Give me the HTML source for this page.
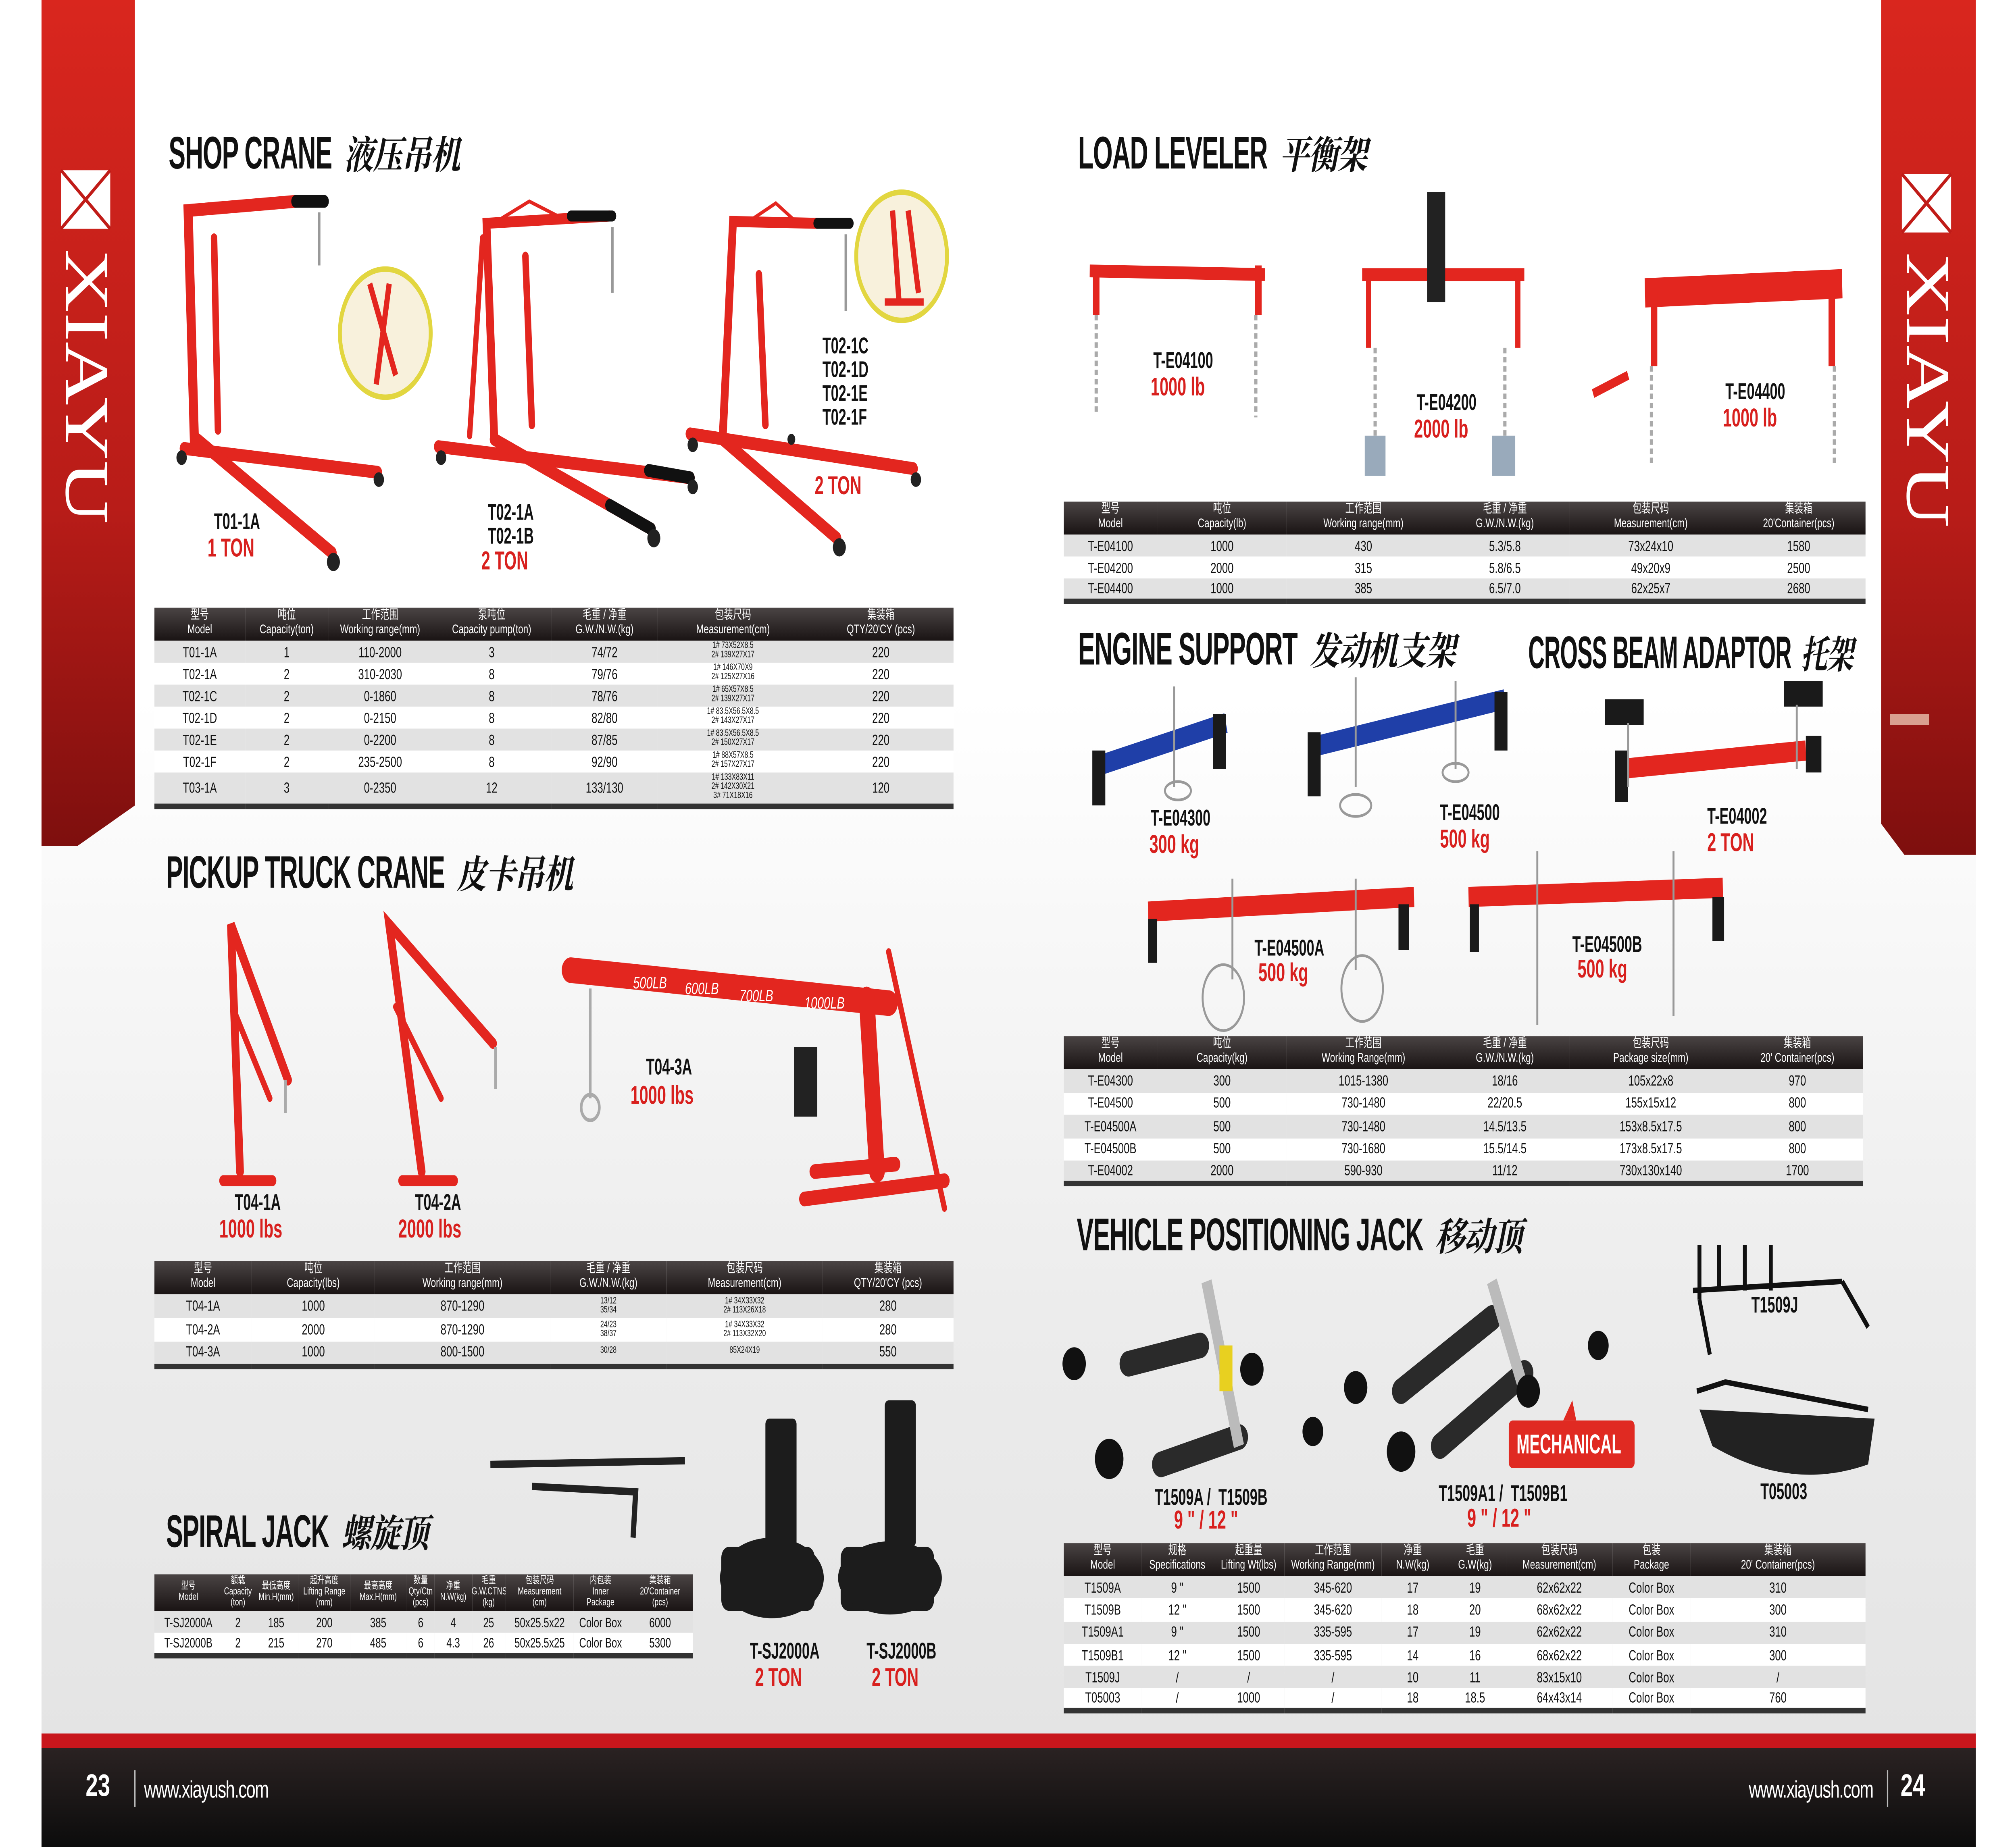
<!DOCTYPE html>
<html><head><meta charset="utf-8"><style>
html,body{margin:0;padding:0;background:#fff;width:100%;height:100%;overflow:hidden;}
#root{position:absolute;left:0;top:0;width:100vw;height:100vh;display:block;}
#w{position:relative;width:1554px;height:1009px;overflow:hidden;background:#fff;font-family:"Liberation Sans","Noto Sans CJK SC",sans-serif;}
.a{position:absolute;}
.h{position:absolute;font-weight:bold;font-size:25px;color:#111;white-space:nowrap;transform-origin:0 0;transform:scaleX(0.78);letter-spacing:-0.5px;}
.h span{font-family:"Noto Serif CJK SC","Noto Sans CJK SC",serif;font-style:italic;font-size:21px;margin-left:12px;display:inline-block;transform:scaleX(1.4);transform-origin:0 50%;}
.m{position:absolute;font-weight:bold;font-size:12.5px;color:#111;white-space:nowrap;transform:scaleX(0.85);transform-origin:0 0;line-height:13px;}
.r{position:absolute;font-weight:bold;font-size:14px;color:#d8201e;white-space:nowrap;transform:scaleX(0.88);transform-origin:0 0;}
.logo{position:absolute;color:#fff;font-family:'Liberation Serif',serif;font-size:48px;line-height:40px;width:40px;height:170px;writing-mode:vertical-rl;text-orientation:sideways;white-space:nowrap;overflow:hidden;}
table{position:absolute;border-collapse:collapse;font-size:8px;color:#111;text-align:center;table-layout:fixed;border-bottom:3px solid #333;}
th{background:linear-gradient(#4a4444,#1a1414);color:#fff;font-weight:normal;font-size:7px;line-height:8px;padding:1px 0;white-space:nowrap;overflow:hidden;}
td{padding:0;white-space:nowrap;overflow:hidden;}
tr:nth-child(even) td{background:#e2e2e2;}
tr:nth-child(odd) td{background:#fff;}
td.s{font-size:5px;line-height:5px;}
</style></head><body>
<svg id="root" viewBox="0 0 1554 1009" preserveAspectRatio="none" xmlns="http://www.w3.org/2000/svg"><foreignObject x="0" y="0" width="1554" height="1009"><div xmlns="http://www.w3.org/1999/xhtml" id="w">
<div class="a" style="left:32px;top:0;width:1491px;height:955px;background:linear-gradient(#ffffff 0%,#ffffff 40%,#ececec 75%,#e4e4e4 100%);"></div>
<svg class="a" style="left:0;top:0" width="1554" height="1009" xmlns="http://www.w3.org/2000/svg">
<defs><linearGradient id="rg" x1="0" y1="0" x2="0" y2="1"><stop offset="0" stop-color="#d9261e"/><stop offset="0.6" stop-color="#b81c18"/><stop offset="1" stop-color="#7e0f0e"/></linearGradient>
<linearGradient id="fg" x1="0" y1="0" x2="0" y2="1"><stop offset="0" stop-color="#2a2222"/><stop offset="1" stop-color="#0c0c0c"/></linearGradient></defs>
<polygon points="32,0 104,0 104,440 60,462 32,462" fill="url(#rg)"/>
<polygon points="1450,0 1523,0 1523,467 1468,467 1450,450" fill="url(#rg)"/>
<rect x="1457" y="390" width="30" height="6" fill="#d9a090"/>
<rect x="32" y="947" width="1491" height="8" fill="#c8161c"/>
<rect x="32" y="955" width="1491" height="54" fill="url(#fg)"/>
<line x1="104" y1="967" x2="104" y2="987" stroke="#bbb" stroke-width="1"/>
<line x1="1455" y1="967" x2="1455" y2="987" stroke="#bbb" stroke-width="1"/>
<g fill="#fff"><rect x="47" y="93" width="38" height="32"/><rect x="1466" y="95" width="38" height="32"/></g>
<g stroke="#c01c18" stroke-width="2"><line x1="47" y1="93" x2="85" y2="125"/><line x1="85" y1="93" x2="47" y2="125"/><line x1="1466" y1="95" x2="1504" y2="127"/><line x1="1504" y1="95" x2="1466" y2="127"/></g>

<g stroke="#e3261f" stroke-linecap="round" fill="none">
<path d="M150,245 L145,115 L228,110" stroke-width="7"/><path d="M228,110 L250,110" stroke="#111" stroke-width="7"/>
<path d="M165,130 L168,235" stroke-width="5"/>
<path d="M142,245 L291,258" stroke-width="7"/><path d="M152,240 L256,302" stroke-width="7"/>
<path d="M381,240 L375,122 L470,118" stroke-width="6"/><path d="M440,118 L472,118" stroke="#111" stroke-width="6"/>
<path d="M372,130 L362,238" stroke-width="4"/><path d="M405,140 L410,232" stroke-width="5"/>
<path d="M338,244 L532,261" stroke-width="7"/><path d="M381,240 L502,289" stroke-width="7"/>
<path d="M470,276 L502,289" stroke="#111" stroke-width="7"/><path d="M500,257 L532,261" stroke="#111" stroke-width="7"/>
<path d="M557,240 L565,121 L630,122" stroke-width="6"/><path d="M630,122 L655,122" stroke="#111" stroke-width="6"/>
<path d="M585,150 L590,232" stroke-width="5"/><path d="M557,240 L645,294" stroke-width="7"/><path d="M532,237 L704,256" stroke-width="7"/>
<path d="M385,120 L408,110 L430,118" stroke-width="2"/><path d="M575,122 L598,111 L615,122" stroke-width="2"/>
</g>
<g fill="#222"><circle cx="140" cy="250" r="4"/><circle cx="292" cy="262" r="4"/><circle cx="257" cy="307" r="5"/><circle cx="340" cy="250" r="4"/><circle cx="504" cy="294" r="5"/><circle cx="534" cy="266" r="4"/><circle cx="534" cy="243" r="4"/><circle cx="647" cy="299" r="5"/><circle cx="706" cy="262" r="4"/><circle cx="610" cy="240" r="3"/></g>
<g stroke="#999" stroke-width="2" fill="none"><path d="M246,116 L246,145"/><path d="M472,124 L472,160"/><path d="M652,128 L652,170"/></g>
<circle cx="297" cy="182" r="35" fill="#f8f1dc" stroke="#e2d640" stroke-width="3"/>
<path d="M285,155 L305,205 M300,155 L290,210" stroke="#e3261f" stroke-width="4"/>
<circle cx="695" cy="140" r="35" fill="#f8f1dc" stroke="#e2d640" stroke-width="3"/>
<path d="M688,115 L693,165 M700,115 L708,160 M682,165 L712,165" stroke="#e3261f" stroke-width="4"/>

<g stroke="#e3261f" fill="none" stroke-linecap="round">
<path d="M185,640 L178,505 L222,590" stroke-width="6"/><path d="M182,555 L208,600" stroke-width="4"/><path d="M172,645 L210,645" stroke-width="6"/>
<path d="M325,640 L300,505 L380,570" stroke-width="6"/><path d="M305,550 L340,600" stroke-width="4"/><path d="M310,645 L350,645" stroke-width="6"/>
<path d="M440,530 L685,548" stroke-width="14"/><path d="M668,545 L676,640" stroke-width="12"/><path d="M685,520 L728,660" stroke-width="4"/>
<path d="M620,655 L728,645" stroke-width="8"/><path d="M628,640 L690,636" stroke-width="8"/>
</g>
<rect x="612" y="572" width="18" height="38" fill="#222"/>
<g stroke="#aaa" stroke-width="2" fill="none"><path d="M220,590 L220,608"/><path d="M382,572 L382,595"/><path d="M455,540 L455,600"/><circle cx="455" cy="605" r="7"/></g>
<g fill="#fff" font-size="9" font-style="italic" font-family="Liberation Sans"><text x="488" y="540">500LB</text><text x="528" y="543">600LB</text><text x="570" y="547">700LB</text><text x="620" y="551">1000LB</text></g>

<g stroke="#222" fill="none"><path d="M378,800 L528,798" stroke-width="4"/><path d="M410,812 L490,815 L488,840" stroke-width="4"/></g>
<g fill="#1c1c1c"><rect x="590" y="775" width="24" height="70" rx="3"/><ellipse cx="595" cy="862" rx="40" ry="22"/><rect x="556" y="845" width="72" height="35" rx="6"/>
<rect x="682" y="765" width="24" height="80" rx="3"/><rect x="648" y="845" width="72" height="35" rx="6"/><ellipse cx="686" cy="862" rx="40" ry="20"/></g>

<g stroke="#e3261f" fill="none">
<path d="M840,148 L975,150" stroke-width="7"/><path d="M845,145 L845,172 M970,145 L970,172" stroke-width="5"/>
<path d="M1050,150 L1175,150" stroke-width="7"/><path d="M1055,150 L1055,190 M1170,150 L1170,190" stroke-width="4"/>
<path d="M1268,160 L1420,155" stroke-width="16"/><path d="M1275,160 L1275,200 M1412,160 L1412,200" stroke-width="5"/>
</g>
<rect x="1100" y="105" width="14" height="60" fill="#222"/>
<path d="M1228,215 L1255,205" stroke="#e3261f" stroke-width="5"/>
<g stroke="#aaa" stroke-width="2.5" stroke-dasharray="3 2" fill="none"><path d="M845,172 L845,225 M968,172 L968,228 M1060,190 L1060,250 M1160,190 L1160,252 M1273,200 L1273,255 M1414,200 L1414,255"/></g>
<g fill="#9ab"><rect x="1052" y="238" width="16" height="22"/><rect x="1150" y="238" width="18" height="22"/></g>

<g stroke="#1f3fa8" stroke-width="11"><path d="M848,418 L945,395"/><path d="M1012,408 L1160,382"/></g>
<g stroke="#e3261f" stroke-width="11"><path d="M1250,420 L1392,410"/><path d="M885,498 L1090,490"/><path d="M1132,490 L1328,485"/></g>
<g fill="#1a1a1a"><rect x="842" y="410" width="10" height="30"/><rect x="935" y="390" width="10" height="30"/><rect x="1008" y="400" width="10" height="35"/><rect x="1152" y="378" width="10" height="32"/>
<rect x="1245" y="410" width="10" height="28"/><rect x="1392" y="402" width="12" height="20"/><rect x="1237" y="382" width="30" height="14"/><rect x="1375" y="372" width="30" height="14"/>
<rect x="885" y="502" width="7" height="24"/><rect x="1078" y="494" width="8" height="25"/><rect x="1133" y="494" width="7" height="26"/><rect x="1320" y="490" width="9" height="24"/></g>
<g stroke="#999" stroke-width="1.5" fill="none"><path d="M905,375 L905,430 M1045,370 L1045,430 M1122,372 L1122,420 M1255,395 L1255,430 M1385,385 L1385,420 M950,480 L950,535 M1045,480 L1045,530 M1185,465 L1185,560 M1290,465 L1290,555"/>
<ellipse cx="908" cy="432" rx="10" ry="5"/><ellipse cx="1045" cy="440" rx="12" ry="6"/><ellipse cx="1122" cy="422" rx="10" ry="5"/><ellipse cx="943" cy="545" rx="16" ry="18"/><ellipse cx="1050" cy="540" rx="16" ry="18"/></g>

<g stroke="#2a2a2a" stroke-width="14" stroke-linecap="round"><path d="M870,745 L925,735"/><path d="M895,800 L955,785"/><path d="M1080,760 L1150,720"/><path d="M1110,790 L1175,750"/></g>
<g stroke="#bbb" stroke-width="8" fill="none"><path d="M930,700 L955,790"/><path d="M1150,700 L1175,760"/></g>
<rect x="940" y="735" width="10" height="25" fill="#e8d020"/>
<g fill="#111"><circle cx="828" cy="745" r="9"/><circle cx="855" cy="797" r="11"/><circle cx="965" cy="748" r="9"/><circle cx="1012" cy="782" r="8"/><circle cx="1045" cy="758" r="9"/><circle cx="1080" cy="793" r="11"/><circle cx="1178" cy="760" r="9"/><circle cx="1232" cy="735" r="8"/></g>
<g stroke="#111" stroke-width="3" fill="none"><path d="M1305,705 L1420,700 M1310,680 L1310,710 M1325,680 L1325,705 M1345,680 L1345,705 M1365,680 L1365,705 M1420,700 L1440,725 M1310,710 L1318,740"/></g>
<path d="M1310,770 L1445,775 L1440,800 Q1380,815 1320,790 Z" fill="#222"/>
<path d="M1308,760 L1330,755 L1440,770" stroke="#111" stroke-width="3" fill="none"/>
<rect x="1163" y="776" width="97" height="26" rx="3" fill="#e02a22"/>
<path d="M1205,776 L1212,765 L1215,776" fill="#e02a22"/>
</svg>

<div class="logo" style="left:46px;top:136px;">XIAYU</div>
<div class="logo" style="left:1465px;top:138px;">XIAYU</div>

<div class="a" style="left:66px;top:966px;color:#fff;font-size:17px;font-weight:bold;">23</div>
<div class="a" style="left:111px;top:970px;color:#fff;font-size:13px;letter-spacing:-0.5px;">www.xiayush.com</div>
<div class="a" style="left:1348px;top:970px;color:#fff;font-size:13px;letter-spacing:-0.5px;">www.xiayush.com</div>
<div class="a" style="left:1465px;top:966px;color:#fff;font-size:17px;font-weight:bold;">24</div>
<div class="a" style="left:1169px;top:781px;color:#fff;font-weight:bold;font-size:15px;transform:scaleX(0.8);transform-origin:0 0;">MECHANICAL</div>

<div class="h" style="left:130px;top:69px;">SHOP CRANE<span>液压吊机</span></div>
<div class="h" style="left:128px;top:462px;">PICKUP TRUCK CRANE<span>皮卡吊机</span></div>
<div class="h" style="left:128px;top:822px;">SPIRAL JACK<span>螺旋顶</span></div>
<div class="h" style="left:831px;top:69px;">LOAD LEVELER<span>平衡架</span></div>
<div class="h" style="left:831px;top:340px;">ENGINE SUPPORT<span>发动机支架</span></div>
<div class="h" style="left:1178px;top:342px;transform:scaleX(0.7);">CROSS BEAM ADAPTOR<span style="margin-left:10px;">托架</span></div>
<div class="h" style="left:830px;top:660px;">VEHICLE POSITIONING JACK<span>移动顶</span></div>

<div class="m" style="left:165px;top:279px;">T01-1A</div><div class="r" style="left:160px;top:291px;">1 TON</div>
<div class="m" style="left:376px;top:274px;">T02-1A<br/>T02-1B</div><div class="r" style="left:371px;top:298px;">2 TON</div>
<div class="m" style="left:634px;top:183px;">T02-1C<br/>T02-1D<br/>T02-1E<br/>T02-1F</div><div class="r" style="left:628px;top:257px;">2 TON</div>
<div class="m" style="left:181px;top:651px;">T04-1A</div><div class="r" style="left:169px;top:663px;">1000 lbs</div>
<div class="m" style="left:320px;top:651px;">T04-2A</div><div class="r" style="left:307px;top:663px;">2000 lbs</div>
<div class="m" style="left:498px;top:577px;">T04-3A</div><div class="r" style="left:486px;top:590px;">1000 lbs</div>
<div class="m" style="left:578px;top:896px;">T-SJ2000A</div><div class="r" style="left:582px;top:908px;">2 TON</div>
<div class="m" style="left:668px;top:896px;">T-SJ2000B</div><div class="r" style="left:672px;top:908px;">2 TON</div>
<div class="m" style="left:889px;top:191px;">T-E04100</div><div class="r" style="left:887px;top:203px;">1000 lb</div>
<div class="m" style="left:1092px;top:214px;">T-E04200</div><div class="r" style="left:1090px;top:226px;">2000 lb</div>
<div class="m" style="left:1330px;top:208px;">T-E04400</div><div class="r" style="left:1328px;top:220px;">1000 lb</div>
<div class="m" style="left:887px;top:441px;">T-E04300</div><div class="r" style="left:886px;top:453px;">300 kg</div>
<div class="m" style="left:1110px;top:438px;">T-E04500</div><div class="r" style="left:1110px;top:450px;">500 kg</div>
<div class="m" style="left:1316px;top:440px;">T-E04002</div><div class="r" style="left:1316px;top:452px;">2 TON</div>
<div class="m" style="left:967px;top:512px;">T-E04500A</div><div class="r" style="left:970px;top:523px;">500 kg</div>
<div class="m" style="left:1212px;top:510px;">T-E04500B</div><div class="r" style="left:1216px;top:521px;">500 kg</div>
<div class="m" style="left:1350px;top:707px;">T1509J</div>
<div class="m" style="left:1357px;top:809px;">T05003</div>
<div class="m" style="left:890px;top:812px;">T1509A /&#160;&#160;T1509B</div><div class="r" style="left:905px;top:822px;">9 " / 12 "</div>
<div class="m" style="left:1109px;top:810px;">T1509A1 /&#160;&#160;T1509B1</div><div class="r" style="left:1131px;top:821px;">9 " / 12 "</div>

<table style="left:119px;top:332px;width:616px;">
<colgroup><col style="width:70px"/><col style="width:64px"/><col style="width:80px"/><col style="width:92px"/><col style="width:82px"/><col style="width:116px"/><col style="width:112px"/></colgroup>
<tr><th>型号<br/>Model</th><th>吨位<br/>Capacity(ton)</th><th>工作范围<br/>Working range(mm)</th><th>泵吨位<br/>Capacity pump(ton)</th><th>毛重 / 净重<br/>G.W./N.W.(kg)</th><th>包装尺码<br/>Measurement(cm)</th><th>集装箱<br/>QTY/20'CY (pcs)</th></tr>
<tr style="height:12px"><td>T01-1A</td><td>1</td><td>110-2000</td><td>3</td><td>74/72</td><td class="s">1# 73X52X8.5<br/>2# 139X27X17</td><td>220</td></tr>
<tr style="height:12px"><td>T02-1A</td><td>2</td><td>310-2030</td><td>8</td><td>79/76</td><td class="s">1# 146X70X9<br/>2# 125X27X16</td><td>220</td></tr>
<tr style="height:12px"><td>T02-1C</td><td>2</td><td>0-1860</td><td>8</td><td>78/76</td><td class="s">1# 65X57X8.5<br/>2# 139X27X17</td><td>220</td></tr>
<tr style="height:12px"><td>T02-1D</td><td>2</td><td>0-2150</td><td>8</td><td>82/80</td><td class="s">1# 83.5X56.5X8.5<br/>2# 143X27X17</td><td>220</td></tr>
<tr style="height:12px"><td>T02-1E</td><td>2</td><td>0-2200</td><td>8</td><td>87/85</td><td class="s">1# 83.5X56.5X8.5<br/>2# 150X27X17</td><td>220</td></tr>
<tr style="height:12px"><td>T02-1F</td><td>2</td><td>235-2500</td><td>8</td><td>92/90</td><td class="s">1# 88X57X8.5<br/>2# 157X27X17</td><td>220</td></tr>
<tr style="height:18px"><td>T03-1A</td><td>3</td><td>0-2350</td><td>12</td><td>133/130</td><td class="s">1# 133X83X11<br/>2# 142X30X21<br/>3# 71X18X16</td><td>120</td></tr>
</table>

<table style="left:119px;top:689px;width:616px;">
<colgroup><col style="width:75px"/><col style="width:95px"/><col style="width:135px"/><col style="width:90px"/><col style="width:120px"/><col style="width:101px"/></colgroup>
<tr><th>型号<br/>Model</th><th>吨位<br/>Capacity(lbs)</th><th>工作范围<br/>Working range(mm)</th><th>毛重 / 净重<br/>G.W./N.W.(kg)</th><th>包装尺码<br/>Measurement(cm)</th><th>集装箱<br/>QTY/20'CY (pcs)</th></tr>
<tr style="height:13px"><td>T04-1A</td><td>1000</td><td>870-1290</td><td class="s">13/12<br/>35/34</td><td class="s">1# 34X33X32<br/>2# 113X26X18</td><td>280</td></tr>
<tr style="height:13px"><td>T04-2A</td><td>2000</td><td>870-1290</td><td class="s">24/23<br/>38/37</td><td class="s">1# 34X33X32<br/>2# 113X32X20</td><td>280</td></tr>
<tr style="height:13px"><td>T04-3A</td><td>1000</td><td>800-1500</td><td class="s">30/28</td><td class="s">85X24X19</td><td>550</td></tr>
</table>

<table style="left:119px;top:860px;width:415px;font-size:7.5px;">
<colgroup><col style="width:48px"/><col style="width:22px"/><col style="width:32px"/><col style="width:36px"/><col style="width:40px"/><col style="width:20px"/><col style="width:26px"/><col style="width:24px"/><col style="width:48px"/><col style="width:38px"/><col style="width:46px"/></colgroup>
<tr><th style="font-size:5.5px;line-height:6px">型号<br/>Model</th><th style="font-size:5.5px;line-height:6px">额载<br/>Capacity<br/>(ton)</th><th style="font-size:5.5px;line-height:6px">最低高度<br/>Min.H(mm)</th><th style="font-size:5.5px;line-height:6px">起升高度<br/>Lifting Range<br/>(mm)</th><th style="font-size:5.5px;line-height:6px">最高高度<br/>Max.H(mm)</th><th style="font-size:5.5px;line-height:6px">数量<br/>Qty/Ctn<br/>(pcs)</th><th style="font-size:5.5px;line-height:6px">净重<br/>N.W(kg)</th><th style="font-size:5.5px;line-height:6px">毛重<br/>G.W.CTNS<br/>(kg)</th><th style="font-size:5.5px;line-height:6px">包装尺码<br/>Measurement<br/>(cm)</th><th style="font-size:5.5px;line-height:6px">内包装<br/>Inner<br/>Package</th><th style="font-size:5.5px;line-height:6px">集装箱<br/>20'Container<br/>(pcs)</th></tr>
<tr style="height:12px"><td>T-SJ2000A</td><td>2</td><td>185</td><td>200</td><td>385</td><td>6</td><td>4</td><td>25</td><td>50x25.5x22</td><td>Color Box</td><td>6000</td></tr>
<tr style="height:12px"><td>T-SJ2000B</td><td>2</td><td>215</td><td>270</td><td>485</td><td>6</td><td>4.3</td><td>26</td><td>50x25.5x25</td><td>Color Box</td><td>5300</td></tr>
</table>

<table style="left:820px;top:274px;width:618px;">
<colgroup><col style="width:72px"/><col style="width:100px"/><col style="width:118px"/><col style="width:100px"/><col style="width:125px"/><col style="width:103px"/></colgroup>
<tr><th>型号<br/>Model</th><th>吨位<br/>Capacity(lb)</th><th>工作范围<br/>Working range(mm)</th><th>毛重 / 净重<br/>G.W./N.W.(kg)</th><th>包装尺码<br/>Measurement(cm)</th><th>集装箱<br/>20'Container(pcs)</th></tr>
<tr style="height:12px"><td>T-E04100</td><td>1000</td><td>430</td><td>5.3/5.8</td><td>73x24x10</td><td>1580</td></tr>
<tr style="height:12px"><td>T-E04200</td><td>2000</td><td>315</td><td>5.8/6.5</td><td>49x20x9</td><td>2500</td></tr>
<tr style="height:12px"><td>T-E04400</td><td>1000</td><td>385</td><td>6.5/7.0</td><td>62x25x7</td><td>2680</td></tr>
</table>

<table style="left:820px;top:566px;width:616px;">
<colgroup><col style="width:72px"/><col style="width:100px"/><col style="width:118px"/><col style="width:100px"/><col style="width:125px"/><col style="width:101px"/></colgroup>
<tr><th>型号<br/>Model</th><th>吨位<br/>Capacity(kg)</th><th>工作范围<br/>Working Range(mm)</th><th>毛重 / 净重<br/>G.W./N.W.(kg)</th><th>包装尺码<br/>Package size(mm)</th><th>集装箱<br/>20' Container(pcs)</th></tr>
<tr style="height:12.5px"><td>T-E04300</td><td>300</td><td>1015-1380</td><td>18/16</td><td>105x22x8</td><td>970</td></tr>
<tr style="height:12.5px"><td>T-E04500</td><td>500</td><td>730-1480</td><td>22/20.5</td><td>155x15x12</td><td>800</td></tr>
<tr style="height:12.5px"><td>T-E04500A</td><td>500</td><td>730-1480</td><td>14.5/13.5</td><td>153x8.5x17.5</td><td>800</td></tr>
<tr style="height:12.5px"><td>T-E04500B</td><td>500</td><td>730-1680</td><td>15.5/14.5</td><td>173x8.5x17.5</td><td>800</td></tr>
<tr style="height:12.5px"><td>T-E04002</td><td>2000</td><td>590-930</td><td>11/12</td><td>730x130x140</td><td>1700</td></tr>
</table>

<table style="left:820px;top:843px;width:618px;">
<colgroup><col style="width:60px"/><col style="width:55px"/><col style="width:55px"/><col style="width:75px"/><col style="width:48px"/><col style="width:48px"/><col style="width:82px"/><col style="width:60px"/><col style="width:135px"/></colgroup>
<tr><th>型号<br/>Model</th><th>规格<br/>Specifications</th><th>起重量<br/>Lifting Wt(lbs)</th><th>工作范围<br/>Working Range(mm)</th><th>净重<br/>N.W(kg)</th><th>毛重<br/>G.W(kg)</th><th>包装尺码<br/>Measurement(cm)</th><th>包装<br/>Package</th><th>集装箱<br/>20' Container(pcs)</th></tr>
<tr style="height:12.3px"><td>T1509A</td><td>9 "</td><td>1500</td><td>345-620</td><td>17</td><td>19</td><td>62x62x22</td><td>Color Box</td><td>310</td></tr>
<tr style="height:12.3px"><td>T1509B</td><td>12 "</td><td>1500</td><td>345-620</td><td>18</td><td>20</td><td>68x62x22</td><td>Color Box</td><td>300</td></tr>
<tr style="height:12.3px"><td>T1509A1</td><td>9 "</td><td>1500</td><td>335-595</td><td>17</td><td>19</td><td>62x62x22</td><td>Color Box</td><td>310</td></tr>
<tr style="height:12.3px"><td>T1509B1</td><td>12 "</td><td>1500</td><td>335-595</td><td>14</td><td>16</td><td>68x62x22</td><td>Color Box</td><td>300</td></tr>
<tr style="height:12.3px"><td>T1509J</td><td>/</td><td>/</td><td>/</td><td>10</td><td>11</td><td>83x15x10</td><td>Color Box</td><td>/</td></tr>
<tr style="height:12.3px"><td>T05003</td><td>/</td><td>1000</td><td>/</td><td>18</td><td>18.5</td><td>64x43x14</td><td>Color Box</td><td>760</td></tr>
</table>
</div></foreignObject></svg>
</body></html>
